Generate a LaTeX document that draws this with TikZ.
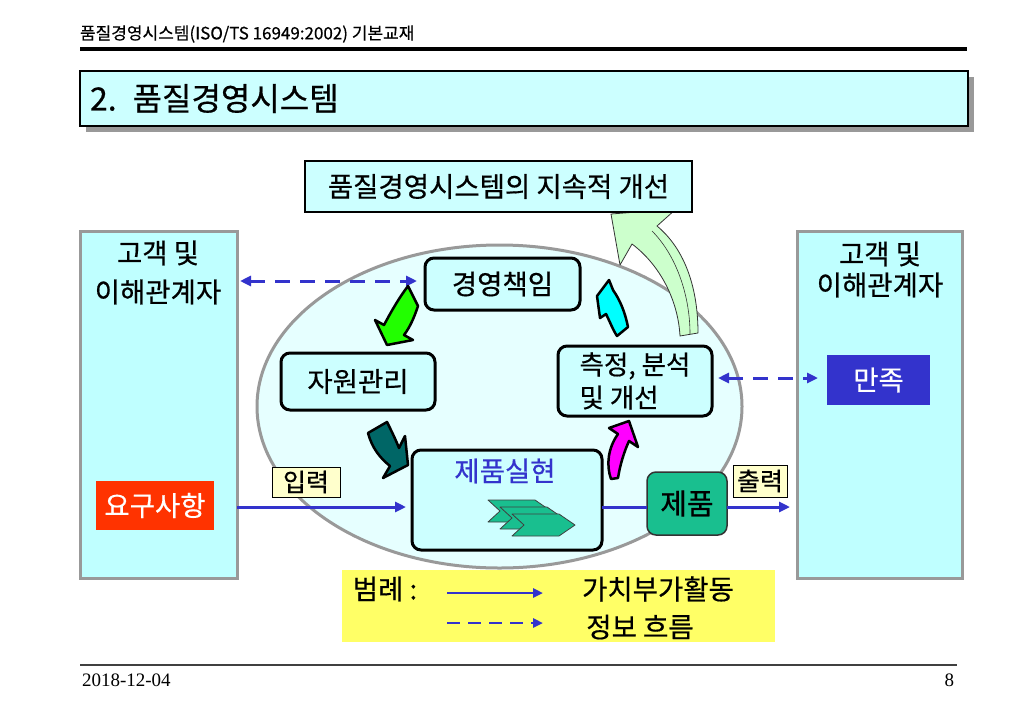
\documentclass[tikz,border=0pt]{standalone}
\usepackage{fontspec}
\setmainfont{Noto Sans CJK KR}[FakeBold=0.5]
\newfontfamily\datefont{Liberation Serif}
\usetikzlibrary{arrows.meta,shapes.geometric}

\definecolor{boxcyan}{HTML}{CCFFFF}
\definecolor{panelcyan}{HTML}{BFFFFF}
\definecolor{ovalfill}{HTML}{E6FFFF}
\definecolor{edgegray}{HTML}{999999}
\definecolor{flowblue}{HTML}{3333CC}
\definecolor{reqred}{HTML}{FF3300}
\definecolor{tagyellow}{HTML}{FFFFCC}
\definecolor{legendyellow}{HTML}{FFFF66}
\definecolor{prodgreen}{HTML}{19BF8F}
\definecolor{arrowlime}{HTML}{22FF00}
\definecolor{arrowteal}{HTML}{006666}
\definecolor{arrowmag}{HTML}{FF00FF}
\definecolor{arrowcyan}{HTML}{00FFFF}
\definecolor{arrowpale}{HTML}{CCFFCC}

\begin{document}
\begin{tikzpicture}[x=1pt,y=-1pt,
  every node/.style={inner sep=0pt, outer sep=0pt},
  bodytext/.style={font=\fontsize{27.5}{32}\selectfont},
  stepbox/.style={draw=black, line width=3pt, rounded corners=9pt, fill=boxcyan, bodytext},
  panel/.style={draw=edgegray, line width=3pt, fill=panelcyan},
  tag/.style={draw=black, line width=1pt, fill=tagyellow, font=\fontsize{25}{28}\selectfont},
  valueflow/.style={draw=flowblue, line width=3pt, -{Triangle[length=11pt,width=10pt]}},
  infoflow/.style={draw=flowblue, line width=3pt, dash pattern=on 15pt off 10pt,
    {Triangle[length=11pt,width=10pt]}-{Triangle[length=11pt,width=10pt]}},
  bentarrow/.style={draw=black, line width=2.5pt, line join=round},
]
% page
\fill[white] (0,0) rectangle (1024,709);
\useasboundingbox (0,0) rectangle (1024,709);

% running header
\node[anchor=west, font=\fontsize{17}{20}\selectfont] (header) at (80,34) {품질경영시스템(ISO/TS 16949:2002) 기본교재};
\draw[line width=3.5pt] (80,49) -- (967,49);

% section title with drop shadow
\fill[edgegray] (86,77) rectangle (974,132);
\node[draw=black, line width=1.5pt, fill=boxcyan, anchor=north west,
      minimum width=888pt, minimum height=55pt, text width=868pt, inner xsep=10pt,
      align=left, font=\fontsize{32}{36}\selectfont] (title) at (80,71) {2. 품질경영시스템};

% customer panels
\node[panel, minimum width=157pt, minimum height=347pt] (lpanel) at (158.5,404.5) {};
\node[bodytext] (lcust) at (158,253) {고객 및};
\node[bodytext] (lstake) at (158,292) {이해관계자};
\node[fill=reqred, text=white, bodytext, minimum width=118pt, minimum height=49pt] (req) at (155,505.5) {요구사항};

\node[panel, minimum width=165pt, minimum height=347pt] (rpanel) at (879.5,404.5) {};
\node[bodytext] (rcust) at (880,254) {고객 및};
\node[bodytext] (rstake) at (880,285) {이해관계자};
\node[fill=flowblue, text=white, bodytext, minimum width=103pt, minimum height=50pt] (sat) at (878.5,380) {만족};

% process oval
\node[ellipse, draw=edgegray, line width=3pt, fill=ovalfill,
      minimum width=485pt, minimum height=323pt] (oval) at (499.5,406.5) {};

% continual improvement arrow
\filldraw[fill=arrowpale, draw=black!80, line width=0.8pt, line join=round]
  (611,214) -- (620,265) -- (632,244) .. controls (660,265) and (678,300) .. (680,336)
  -- (698,333) .. controls (698,290) and (686,250) .. (657,226) -- (676,209) -- cycle;
\draw[black!80, line width=0.6pt] (652,231) .. controls (676,255) and (690,295) .. (690,334);

\node[draw=black, line width=2.5pt, fill=boxcyan, minimum width=387pt, minimum height=51pt,
      bodytext] (improve) at (498.5,186.5) {품질경영시스템의 지속적 개선};

% cycle boxes
\node[stepbox, minimum width=155pt, minimum height=52pt] (mgmt) at (502.5,284) {경영책임};
\node[stepbox, minimum width=154pt, minimum height=57pt] (res) at (358,381.5) {자원관리};
\node[stepbox, minimum width=154pt, minimum height=70pt, align=left,
      font=\fontsize{26.5}{33}\selectfont] (meas) at (635,381) {측정, 분석\\및 개선};
\node[stepbox, minimum width=190pt, minimum height=100pt] (real) at (507,500) {};
\node[bodytext, text=flowblue] (realtext) at (505,471) {제품실현};
\node[draw=black!80, line width=1.5pt, rounded corners=9pt, fill=prodgreen,
      font=\fontsize{29}{32}\selectfont,
      minimum width=80pt, minimum height=63pt] (prod) at (687,503.5) {제품};

% value-adding and information flows
\coordinate (flowy) at (0,507);
\coordinate (topinfo) at (0,281);
\coordinate (rightinfo) at (0,378);
\draw[valueflow, shorten >=6pt] (lpanel.east |- flowy) -- (real.west |- flowy);
\draw[flowblue, line width=3pt] (real.east |- flowy) -- (prod.west |- flowy);
\draw[valueflow, shorten >=7pt] (prod.east |- flowy) -- (rpanel.west |- flowy);
\draw[infoflow, shorten <=3pt, shorten >=8pt] (lpanel.east |- topinfo) -- (mgmt.west |- topinfo);
\draw[infoflow, shorten <=6pt, shorten >=9pt] (meas.east |- rightinfo) -- (sat.west |- rightinfo);

% process chevrons
\foreach \dx/\dy in {0/0,12/7,24/14}
  \filldraw[shift={(\dx,\dy)}, fill=prodgreen, draw=black!75, line width=0.8pt, line join=round]
    (488,500) -- (535,500) -- (551,511) -- (535,522) -- (488,522) -- (500,511) -- cycle;

\node[tag, minimum width=68pt, minimum height=30pt] (intag) at (306,482) {입력};
\node[tag, minimum width=54pt, minimum height=32pt] (outtag) at (760,481) {출력};

% cycle arrows
\filldraw[fill=arrowlime, bentarrow]
  (384,325) .. controls (392,310) and (399,298) .. (408,286) -- (418,306)
  .. controls (414,318) and (410,327) .. (404,335) -- (413,340) -- (387,345) -- (375,320) -- cycle;
\filldraw[fill=arrowteal, bentarrow]
  (368,433) .. controls (372,448) and (380,458) .. (390,466) -- (383,478) -- (408,465)
  -- (405,436) -- (399,448) .. controls (395,438) and (391,430) .. (387,422) -- cycle;
\filldraw[fill=arrowmag, bentarrow]
  (611,479) .. controls (606,465) and (608,448) .. (618,434) -- (609,428) -- (629,421)
  -- (638,447) -- (629,441) .. controls (624,452) and (620,465) .. (618,478) -- cycle;
\filldraw[fill=arrowcyan, bentarrow]
  (609,280) -- (597,296) -- (600,318) -- (606,314) .. controls (610,322) and (613,330) .. (617,336)
  -- (628,327) .. controls (625,312) and (620,300) .. (613,290) -- cycle;

% legend
\node[fill=legendyellow, minimum width=433pt, minimum height=72pt] (legend) at (558.5,606) {};
\node[bodytext] (legkey) at (385,589) {범례 :};
\coordinate (vaS) at (447,593);
\coordinate (vaE) at (543,593);
\coordinate (ifS) at (447,623);
\coordinate (ifE) at (543,623);
\draw[draw=flowblue, line width=2.5pt, -{Triangle[length=10pt,width=9pt]}] (vaS) -- (vaE);
\draw[draw=flowblue, line width=2.5pt, dash pattern=on 13pt off 8pt, -{Triangle[length=10pt,width=9pt]}] (ifS) -- (ifE);
\node[bodytext] (vatext) at (658,589) {가치부가활동};
\node[bodytext] (iftext) at (640,627) {정보 흐름};

% footer
\draw[line width=2pt, black!75] (80,665) -- (957,665);
\node[anchor=west, font=\datefont\fontsize{19}{22}\selectfont] (date) at (82,680) {2018-12-04};
\node[anchor=east, font=\datefont\fontsize{19}{22}\selectfont] (page) at (954,680) {8};
\end{tikzpicture}
\end{document}
